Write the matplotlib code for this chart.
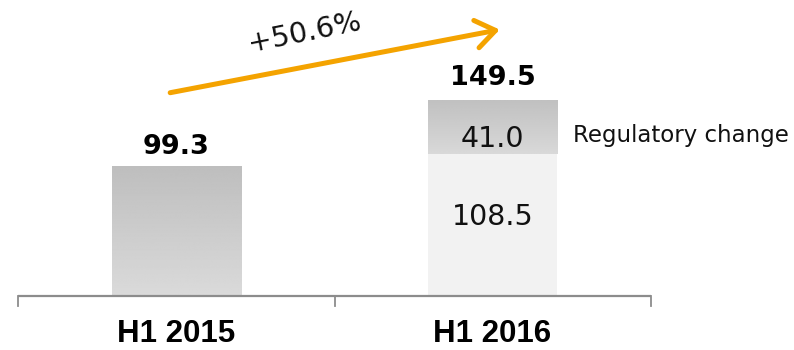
import numpy as np
import matplotlib.pyplot as plt

# Werte aus dem Bild
kategorien = ["H1 2015", "H1 2016"]
basis = [99.3, 108.5]
regulatorisch = [0.0, 41.0]
summen = [99.3, 149.5]
wachstum = "+50.6%"
legende = "Regulatory change"

fig = plt.figure(figsize=(7.94, 3.5), dpi=100)
ax = fig.add_axes([0, 0, 1, 1])
ax.axis("off")
# 316 px pro Kategorie, Basislinie 54 px ueber unterem Rand, 1.309 px pro Einheit
ax.set_xlim(-176.5 / 316, (794 - 176.5) / 316)
ax.set_ylim(-54 / 1.309, (350 - 54) / 1.309)

x = np.arange(len(kategorien))
breite = 0.41


def verlauf(patch, oben, unten):
    # vertikaler Grauverlauf in einem Balken
    x0, y0 = patch.get_x(), patch.get_y()
    w, h = patch.get_width(), patch.get_height()
    if h <= 0:
        return
    grad = np.linspace(oben, unten, 256).reshape(-1, 1)
    im = ax.imshow(grad, cmap="gray", vmin=0, vmax=1, aspect="auto",
                   extent=[x0, x0 + w, y0, y0 + h], origin="upper", zorder=1)
    im.set_clip_path(patch)


# H1 2015: ganzer Balken mit Verlauf, H1 2016: helle Basis
farben_basis = ["none", "#f2f2f2"]
b1 = ax.bar(x, basis, breite, color=farben_basis, edgecolor="none", zorder=2)
verlauf(b1[0], 0.745, 0.855)
b2 = ax.bar(x, regulatorisch, breite, bottom=basis, color="none",
            edgecolor="none", zorder=2)
verlauf(b2[1], 0.755, 0.85)

# Achsenlinie mit Strichen
grau = "#8c8c8c"
ax.plot([-0.5, 1.5], [0, 0], color=grau, lw=1.6, zorder=3, solid_capstyle="butt")
for t in [-0.5, 0.5, 1.5]:
    ax.plot([t, t], [0, -7.5], color=grau, lw=1.3, zorder=3)

for i, k in enumerate(kategorien):
    ax.text(x[i], -35.2, k, ha="center", va="baseline", fontsize=22.5,
            fontweight="bold", family="Liberation Sans")

# Summen
for i, s in enumerate(summen):
    ax.annotate(f"{s:.1f}", (x[i], s), xytext=(0, 9 + 2 * i),
                textcoords="offset points", ha="center", va="baseline",
                fontsize=19.5, fontweight="bold", family="DejaVu Sans")

# Segmentwerte
ax.text(x[1], basis[1] / 2, f"{basis[1]:.1f}", ha="center", va="baseline",
        fontsize=20.5, color="#111111")
ax.text(x[1], basis[1] + 5.3, f"{regulatorisch[1]:.1f}", ha="center",
        va="baseline", fontsize=20.5, color="#111111")
ax.text(1.255, basis[1] + regulatorisch[1] * 0.35, legende, ha="left",
        va="center", fontsize=16.5, color="#111111")

# Pfeil
orange = "#f4a300"
start = (x[0] - 0.02, summen[0] + 56)
ende = (x[1] + 0.023, summen[1] + 54)
ax.annotate("", xy=ende, xytext=start,
            arrowprops=dict(arrowstyle="->,head_length=0.7,head_width=0.5",
                            lw=3.6, color=orange, mutation_scale=20,
                            shrinkA=0, shrinkB=0, capstyle="round",
                            joinstyle="round"))
ax.text(0.407, 201, wachstum, ha="center", va="center", rotation=11.5,
        rotation_mode="anchor", fontsize=20.5, color="#111111")

fig.savefig("out.png", dpi=100)
